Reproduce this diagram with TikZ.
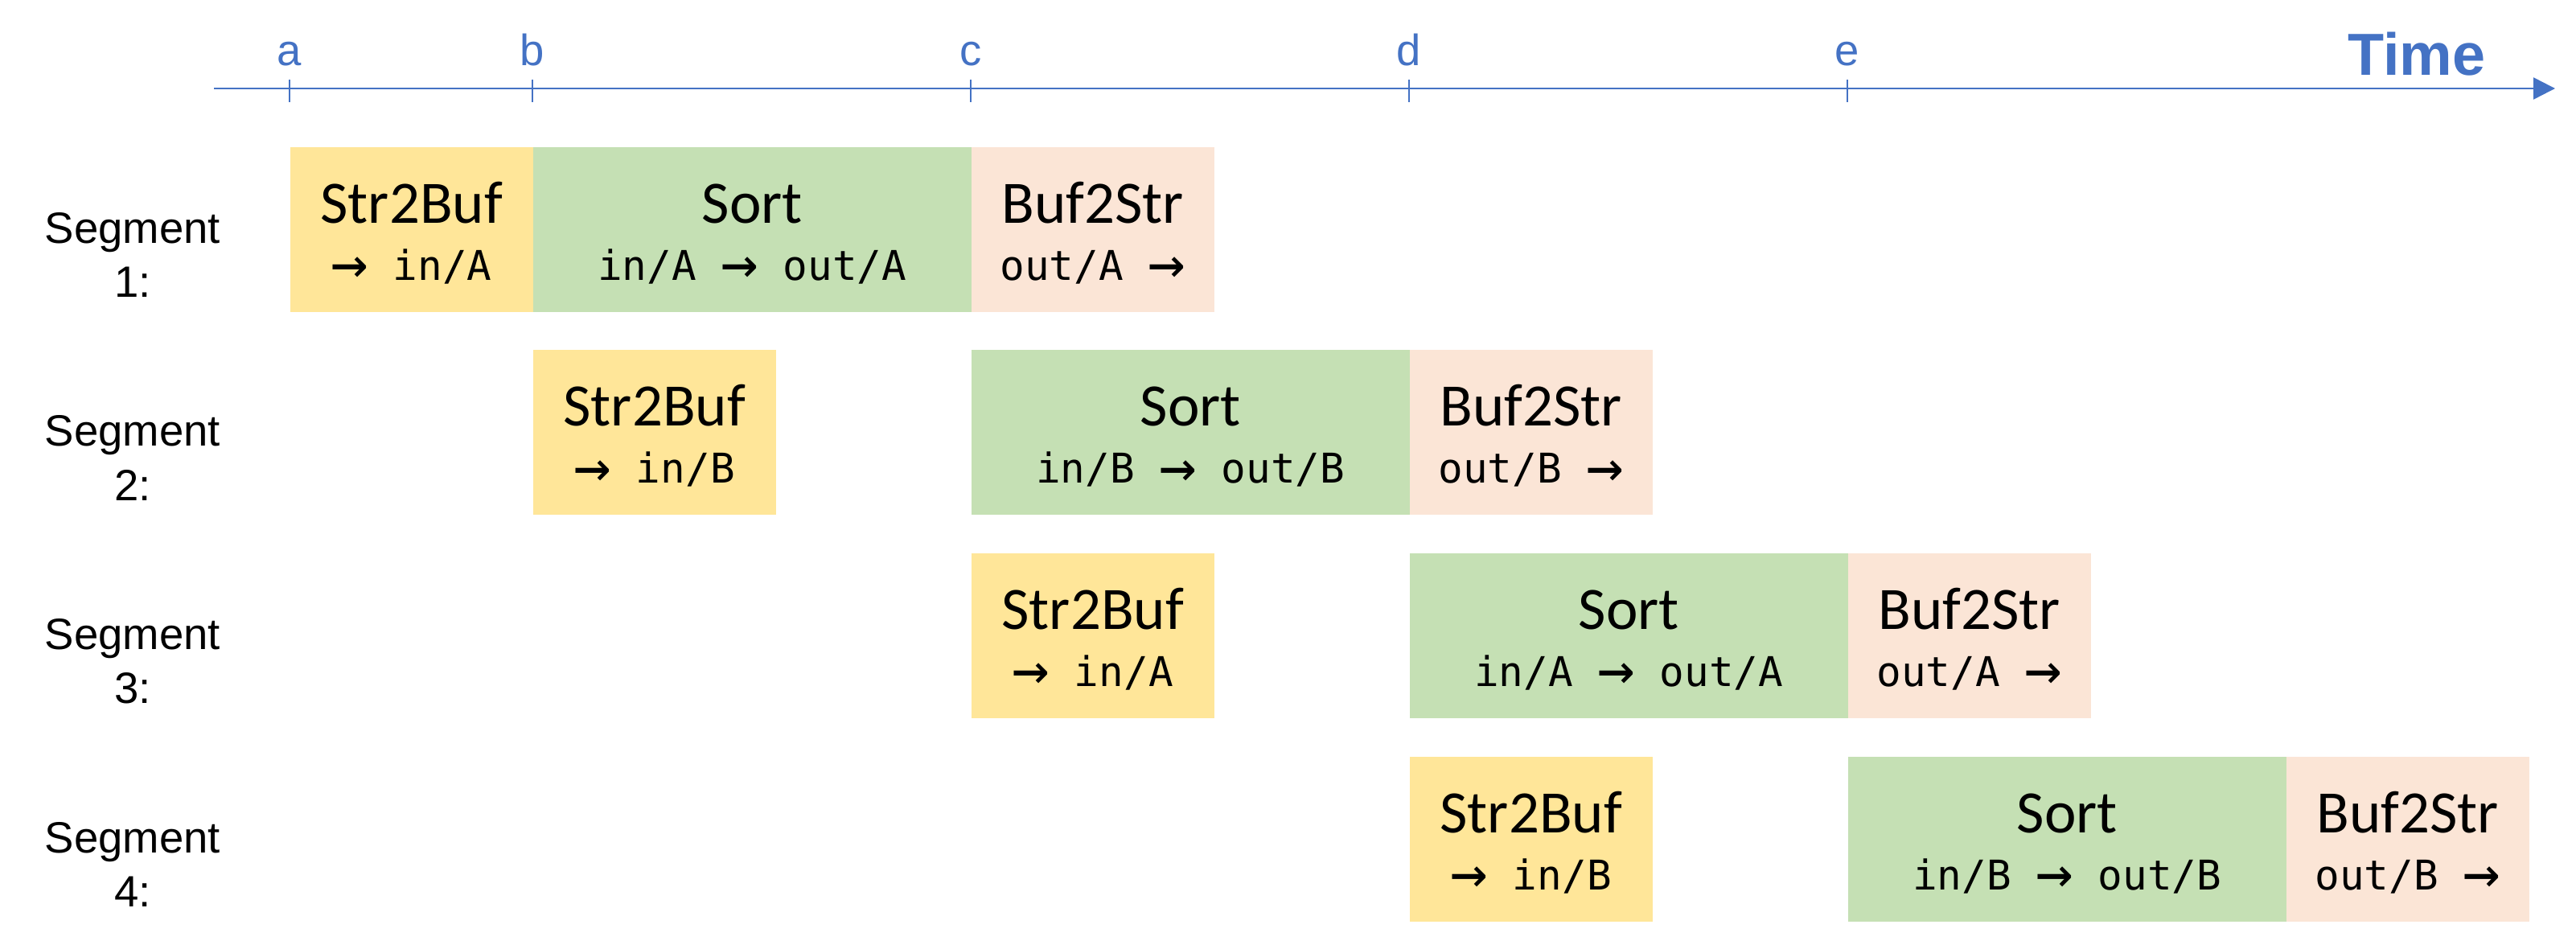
\documentclass[tikz,border=0pt]{standalone}
\usepackage{fontspec}
\setmainfont{Liberation Sans}
\newfontfamily\titlefamily{Carlito}
\newfontfamily\codefamily{DejaVu Sans Mono}
\usetikzlibrary{positioning}
\usetikzlibrary{calc}
\usetikzlibrary{arrows.meta}
\usepackage{color}
\definecolor{myblue}{RGB}{68,114,196}
\definecolor{myyellow}{RGB}{255,230,153}
\definecolor{mygreen}{RGB}{197,224,180}
\definecolor{mypeach}{RGB}{251,229,214}
\newcommand{\widthshort}{3.02cm}
\newcommand{\widthlong}{5.45cm}
\newcommand{\heightblock}{2.05cm}
\newcommand{\titledrop}{0.95cm}
\newcommand{\iodrop}{1.66cm}
\newcommand{\into}{\raisebox{-1.6pt}{\fontsize{22}{22}\selectfont →}}
\tikzset{
    common/.style={anchor=north west, rectangle, inner sep=0pt, minimum height=\heightblock},
    short/.style={common, minimum width=\widthshort},
    long/.style={common, minimum width=\widthlong},
    str2buf/.style={short, fill=myyellow},
    sort/.style={long, fill=mygreen},
    buf2str/.style={short, fill=mypeach},
    heading/.style={label={[anchor=base, yshift=-\titledrop, font=\titlefamily\fontsize{21.3}{25}\selectfont]north:#1}},
    inout/.style={label={[anchor=base, yshift=-\iodrop, font=\codefamily\fontsize{14.5}{17}\selectfont]north:#1}},
    segment/.style={align=center, font=\fontsize{15.5}{19.3}\selectfont},
    timeaxis/.style={myblue, line width=0.7pt},
    tickmark/.style={myblue, line width=0.5pt},
    ticklabel/.style={anchor=base, text=myblue, font=\fontsize{15.5}{18}\selectfont},
}

\begin{document}
\begin{tikzpicture}
          \useasboundingbox (0,0) rectangle (32.03,-11.75);

          % time axis
          \coordinate (origin) at (2.66,-1.10);
          \coordinate (arrowend) at (31.77,-1.10);
          \coordinate (a) at (3.60,-1.10);
          \coordinate (b) at (6.62,-1.10);
          \coordinate (c) at (12.07,-1.10);
          \coordinate (d) at (17.52,-1.10);
          \coordinate (e) at (22.97,-1.10);
          \draw[timeaxis, -{Triangle[length=0.27cm, width=0.27cm]}] (origin) -- (arrowend);
          \draw[tickmark] ($(a)+(0,0.11)$) -- ($(a)+(0,-0.17)$);
          \draw[tickmark] ($(b)+(0,0.11)$) -- ($(b)+(0,-0.17)$);
          \draw[tickmark] ($(c)+(0,0.11)$) -- ($(c)+(0,-0.17)$);
          \draw[tickmark] ($(d)+(0,0.11)$) -- ($(d)+(0,-0.17)$);
          \draw[tickmark] ($(e)+(0,0.11)$) -- ($(e)+(0,-0.17)$);
          \node[ticklabel] (a-label) at ($(a)+(0,0.28)$) {a};
          \node[ticklabel] (b-label) at ($(b)+(0,0.28)$) {b};
          \node[ticklabel] (c-label) at ($(c)+(0,0.28)$) {c};
          \node[ticklabel] (d-label) at ($(d)+(0,0.28)$) {d};
          \node[ticklabel] (e-label) at ($(e)+(0,0.28)$) {e};
          \node[ticklabel, font=\fontsize{21}{25}\selectfont\bfseries] (time) at (30.05,-0.94) {Time};

          % segments
          \coordinate (row1) at (0,-1.82);
          \coordinate (row2) at (0,-4.347);
          \coordinate (row3) at (0,-6.873);
          \coordinate (row4) at (0,-9.40);
          \node[segment] (seg1) at ($(row1)+(1.65,-1.35)$) {Segment\\1:};
          \node[segment] (seg2) at ($(row2)+(1.65,-1.35)$) {Segment\\2:};
          \node[segment] (seg3) at ($(row3)+(1.65,-1.35)$) {Segment\\3:};
          \node[segment] (seg4) at ($(row4)+(1.65,-1.35)$) {Segment\\4:};

          \path
              (a |- row1) node[str2buf, heading=Str2Buf, inout={\into{} in/A}] (S1-str2buf) {}
              to ++(0:\widthshort) node[sort, heading=Sort, inout={in/A \into{} out/A}] (S1-sort) {}
              to ++(0:\widthlong) node[buf2str, heading=Buf2Str, inout={out/A \into}] (S1-buf2str) {};

          \path
              (b |- row2) node[str2buf, heading=Str2Buf, inout={\into{} in/B}] (S2-str2buf) {}
              (c |- row2) node[sort, heading=Sort, inout={in/B \into{} out/B}] (S2-sort) {}
              to ++(0:\widthlong) node[buf2str, heading=Buf2Str, inout={out/B \into}] (S2-buf2str) {};

          \path
              (c |- row3) node[str2buf, heading=Str2Buf, inout={\into{} in/A}] (S3-str2buf) {}
              (d |- row3) node[sort, heading=Sort, inout={in/A \into{} out/A}] (S3-sort) {}
              to ++(0:\widthlong) node[buf2str, heading=Buf2Str, inout={out/A \into}] (S3-buf2str) {};

          \path
              (d |- row4) node[str2buf, heading=Str2Buf, inout={\into{} in/B}] (S4-str2buf) {}
              (e |- row4) node[sort, heading=Sort, inout={in/B \into{} out/B}] (S4-sort) {}
              to ++(0:\widthlong) node[buf2str, heading=Buf2Str, inout={out/B \into}] (S4-buf2str) {};

\end{tikzpicture}
\end{document}
